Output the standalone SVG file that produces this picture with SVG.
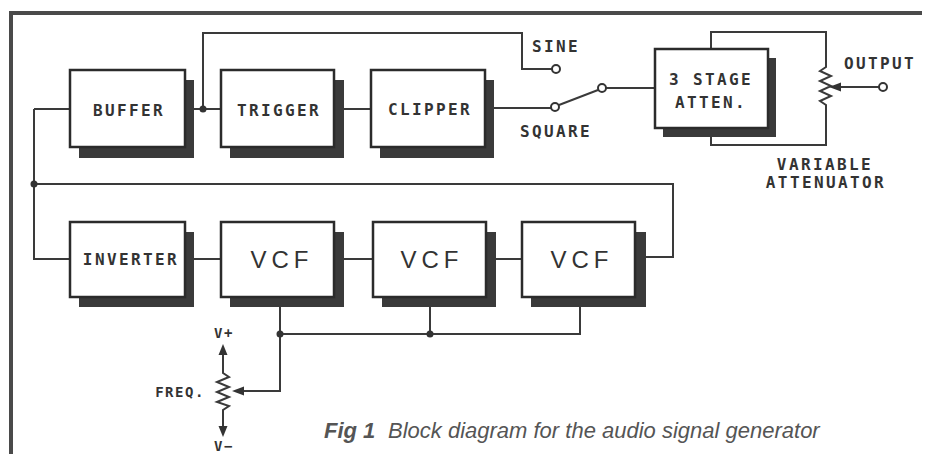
<svg xmlns="http://www.w3.org/2000/svg" width="933" height="454" viewBox="0 0 933 454">
<style>
.box{fill:#fff;stroke:#2b2b2b;stroke-width:2.5}
.sh{fill:#3a3a3a}
.lbl{font-family:"DejaVu Sans Mono","Liberation Mono",monospace;font-weight:bold;font-size:16px;fill:#333;letter-spacing:2.4px;text-anchor:middle}
.sm{font-size:14px;letter-spacing:1.5px}
.vcf{font-family:"Liberation Sans",Arial,sans-serif;font-size:24px;fill:#333;letter-spacing:5px;text-anchor:middle}
.w{fill:none;stroke:#3a3a3a;stroke-width:2;stroke-linejoin:miter}
.dot{fill:#333}
.term{fill:#fff;stroke:#333;stroke-width:2}
.ah{fill:#333}
.cap{font-family:"Liberation Sans",Arial,sans-serif;font-style:italic;font-size:22px;fill:#555}
.frame{fill:#4a4a4a}
</style>
<rect width="933" height="454" fill="#fff"/>
<g id="frame">
<rect class="frame" x="9" y="11" width="913" height="4"/>
<rect class="frame" x="9" y="11" width="4" height="443"/>
</g>
<g id="connectors">
<path class="w" d="M34,109 H70"/>
<path class="w" d="M34,109 V259 H70"/>
<path class="w" d="M34,184 H673 V257 H646"/>
<path class="w" d="M194,109 H221"/>
<path class="w" d="M203,109 V33 H522 V69 H552"/>
<path class="w" d="M343,109 H371"/>
<path class="w" d="M494,108 H551"/>
<path class="w" d="M559,105 L598,90"/>
<path class="w" d="M606,88 H655"/>
<path class="w" d="M711,49 V32 H826 V67 L820,71 L831,76 L820,81 L831,86 L820,91 L831,96 L820,101 L826,105 V145 H711 V137"/>
<path class="w" d="M838,87 H879"/>
<polygon class="ah" points="829,87 841,82.5 841,91.5"/>
<path class="w" d="M194,259 H221"/>
<path class="w" d="M343,259 H373"/>
<path class="w" d="M495,259 H522"/>
<path class="w" d="M280,307 V391 H240"/>
<path class="w" d="M280,334 H580 V307"/>
<path class="w" d="M430,334 V307"/>
<polygon class="ah" points="232,391 244,386.5 244,395.5"/>
<path class="w" d="M223,352 V373 L229,377 L217,382 L229,387 L217,392 L229,397 L217,402 L229,406 L223,410 V428"/>
<polygon class="ah" points="223,344 218.5,355 227.5,355"/>
<polygon class="ah" points="223,437 218.5,426 227.5,426"/>
<circle class="dot" cx="34" cy="184" r="3.5"/>
<circle class="dot" cx="203" cy="109" r="3.5"/>
<circle class="dot" cx="280" cy="334" r="3.5"/>
<circle class="dot" cx="430" cy="334" r="3.5"/>
</g>
<g id="buffer">
<rect class="sh" x="79" y="80" width="115" height="78"/>
<rect class="box" x="70" y="70" width="115" height="77"/>
<text class="lbl" x="129" y="116">BUFFER</text>
</g>
<g id="trigger">
<rect class="sh" x="230" y="80" width="114" height="78"/>
<rect class="box" x="221" y="70" width="113" height="77"/>
<text class="lbl" x="279" y="116">TRIGGER</text>
</g>
<g id="clipper">
<rect class="sh" x="380" y="80" width="114" height="78"/>
<rect class="box" x="371" y="70" width="114" height="77"/>
<text class="lbl" x="430" y="115">CLIPPER</text>
</g>
<g id="switch">
<circle class="term" cx="556" cy="69" r="4"/>
<circle class="term" cx="555" cy="107" r="4"/>
<circle class="term" cx="602" cy="88" r="4"/>
<text class="lbl" x="556" y="52">SINE</text>
<text class="lbl" x="556" y="137">SQUARE</text>
</g>
<g id="atten">
<rect class="sh" x="663" y="58" width="113" height="79"/>
<rect class="box" x="655" y="49" width="113" height="79"/>
<text class="lbl" x="711" y="85">3 STAGE</text>
<text class="lbl" x="711" y="108">ATTEN.</text>
</g>
<g id="output">
<circle class="term" cx="883" cy="87" r="4"/>
<text class="lbl" x="880" y="69">OUTPUT</text>
<text class="lbl" x="825" y="170">VARIABLE</text>
<text class="lbl" x="826" y="188">ATTENUATOR</text>
</g>
<g id="inverter">
<rect class="sh" x="79" y="232" width="115" height="75"/>
<rect class="box" x="70" y="222" width="115" height="75"/>
<text class="lbl" x="131" y="265">INVERTER</text>
</g>
<g id="vcf1">
<rect class="sh" x="230" y="232" width="114" height="75"/>
<rect class="box" x="221" y="222" width="113" height="75"/>
<text class="vcf" x="282" y="268">VCF</text>
</g>
<g id="vcf2">
<rect class="sh" x="382" y="232" width="114" height="75"/>
<rect class="box" x="373" y="222" width="113" height="75"/>
<text class="vcf" x="432" y="268">VCF</text>
</g>
<g id="vcf3">
<rect class="sh" x="531" y="232" width="115" height="75"/>
<rect class="box" x="522" y="222" width="113" height="75"/>
<text class="vcf" x="582" y="268">VCF</text>
</g>
<g id="freq">
<text class="lbl sm" x="180" y="397">FREQ.</text>
<text class="lbl sm" x="224" y="338">V+</text>
<text class="lbl sm" x="224" y="451" font-size="13">V−</text>
</g>
<g id="caption">
<text class="cap" y="438"><tspan x="324" font-weight="bold">Fig 1</tspan><tspan x="388">Block diagram for the audio signal generator</tspan></text>
</g>
</svg>
